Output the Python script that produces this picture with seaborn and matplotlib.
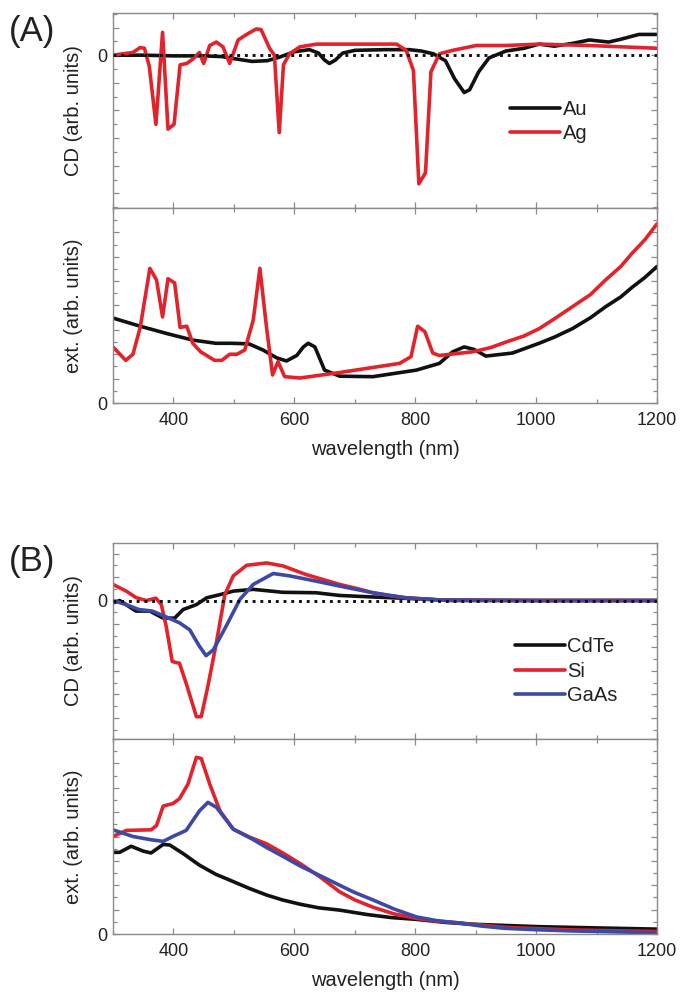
import numpy as np
import pandas as pd
import matplotlib
matplotlib.use("Agg")
import matplotlib.pyplot as plt
import seaborn as sns
from matplotlib.ticker import MultipleLocator, FuncFormatter

# ---------------- (A) metal nanostructures ----------------
au_cd_wl = [300, 350, 400, 450, 480, 500, 530, 555, 575, 600, 625, 640, 650, 658,
            668, 680, 700, 750, 790, 810, 830, 850, 865, 881, 890, 905, 922, 950,
            980, 1005, 1030, 1060, 1088, 1120, 1140, 1170, 1200]
au_cd = [0.0, 0.0, -0.05, -0.05, -0.1, -0.25, -0.45, -0.4, -0.15, 0.25, 0.4, 0.15,
         -0.35, -0.6, -0.35, 0.15, 0.35, 0.4, 0.4, 0.3, 0.1, -0.4, -1.7, -2.7, -2.5,
         -1.2, -0.2, 0.3, 0.5, 0.8, 0.65, 0.85, 1.1, 0.95, 1.15, 1.5, 1.5]

ag_cd_wl = [300, 333, 345, 352, 360, 371, 382, 391, 401, 411, 422, 433, 443, 450,
            460, 471, 482, 493, 507, 521, 537, 545, 559, 567, 575, 582, 592, 609,
            637, 675, 769, 785, 797, 806, 817, 826, 840, 862, 901, 950, 1005, 1088,
            1200]
ag_cd = [0.0, 0.2, 0.55, 0.5, -0.8, -5.0, 1.65, -5.35, -5.0, -0.7, -0.6, -0.25, 0.2,
         -0.6, 0.7, 0.95, 0.6, -0.6, 1.1, 1.5, 1.9, 1.85, 0.5, 0.0, -5.6, -0.7, 0.1,
         0.6, 0.8, 0.8, 0.8, 0.35, -1.1, -9.3, -8.5, -1.2, 0.1, 0.35, 0.7, 0.7, 0.8,
         0.7, 0.5]

au_ext_wl = [300, 345, 389, 432, 470, 497, 525, 548, 571, 587, 604, 615, 623, 634,
             650, 675, 730, 802, 840, 862, 881, 897, 917, 961, 1005, 1030, 1060,
             1090, 1115, 1140, 1159, 1180, 1200]
au_ext = [6.97, 6.3, 5.7, 5.16, 4.9, 4.9, 4.85, 4.35, 3.7, 3.45, 3.9, 4.6, 4.9, 4.6,
          2.7, 2.2, 2.16, 2.7, 3.25, 4.2, 4.6, 4.4, 3.85, 4.1, 4.9, 5.4, 6.1, 7.0,
          7.9, 8.7, 9.5, 10.3, 11.2]

ag_ext_wl = [300, 321, 333, 345, 361, 372, 382, 391, 402, 411, 422, 432, 445, 468,
             480, 493, 505, 518, 532, 543, 554, 564, 573, 584, 609, 675, 774, 793,
             804, 816, 829, 840, 895, 925, 950, 980, 1005, 1030, 1060, 1090, 1115,
             1140, 1159, 1180, 1200]
ag_ext = [4.6, 3.5, 4.0, 6.2, 11.05, 10.1, 7.06, 10.2, 9.85, 6.2, 6.3, 4.9, 4.2, 3.5,
          3.5, 4.0, 4.0, 4.35, 6.8, 11.05, 6.2, 2.3, 3.4, 2.16, 2.05, 2.5, 3.25, 3.8,
          6.3, 5.85, 4.1, 3.9, 4.2, 4.55, 5.0, 5.5, 6.1, 6.9, 7.9, 8.9, 10.1, 11.2,
          12.3, 13.4, 14.7]

# ---------------- (B) semiconductor nanostructures ----------------
cdte_cd_wl = [300, 311, 338, 361, 383, 402, 416, 438, 455, 477, 499, 532, 581, 636,
              675, 730, 800, 860, 1000, 1200]
cdte_cd = [-0.2, 0.0, -0.9, -0.9, -1.5, -1.5, -0.77, -0.35, 0.23, 0.5, 0.8, 0.95,
           0.7, 0.66, 0.43, 0.3, 0.15, 0.0, 0.0, 0.0]

si_cd_wl = [300, 322, 338, 355, 371, 380, 388, 398, 410, 421, 438, 446, 457, 471,
            485, 499, 521, 554, 581, 620, 650, 675, 705, 730, 760, 785, 840, 1000,
            1200]
si_cd = [1.37, 0.8, 0.25, 0.0, 0.2, -0.35, -2.2, -5.2, -5.35, -7.05, -9.9, -9.9,
         -7.3, -3.6, 0.5, 2.1, 3.0, 3.2, 2.95, 2.2, 1.75, 1.37, 1.0, 0.66, 0.4, 0.23,
         0.05, 0.0, 0.0]

gaas_cd_wl = [300, 322, 343, 365, 388, 410, 427, 443, 454, 466, 487, 510, 532, 565,
              592, 636, 675, 705, 730, 760, 785, 840, 1000, 1200]
gaas_cd = [0.0, -0.35, -0.77, -0.9, -1.4, -1.9, -2.5, -3.9, -4.7, -4.2, -2.2, 0.1,
           1.37, 2.3, 2.1, 1.65, 1.23, 0.92, 0.66, 0.42, 0.23, 0.05, 0.0, 0.0]

cdte_ext_wl = [300, 311, 330, 350, 363, 383, 394, 416, 443, 470, 499, 525, 554, 580,
               609, 640, 675, 720, 760, 802, 850, 896, 950, 1005, 1100, 1200]
cdte_ext = [6.7, 6.7, 7.2, 6.8, 6.65, 7.35, 7.3, 6.6, 5.65, 4.9, 4.3, 3.75, 3.2,
            2.8, 2.45, 2.15, 1.96, 1.6, 1.35, 1.2, 0.95, 0.8, 0.7, 0.6, 0.5, 0.4]

si_ext_wl = [300, 322, 363, 372, 383, 399, 410, 424, 438, 446, 460, 477, 499, 526,
             554, 581, 609, 642, 675, 700, 730, 765, 802, 835, 868, 950, 1060, 1200]
si_ext = [8.0, 8.5, 8.55, 8.9, 10.5, 10.7, 11.1, 12.3, 14.5, 14.4, 12.3, 10.1, 8.6,
          7.95, 7.4, 6.65, 5.8, 4.7, 3.46, 2.8, 2.2, 1.65, 1.28, 1.05, 0.93, 0.54,
          0.33, 0.2]

gaas_ext_wl = [300, 333, 361, 383, 399, 421, 443, 457, 471, 499, 530, 554, 580, 609,
               642, 675, 700, 730, 765, 802, 835, 868, 910, 950, 1000, 1060, 1200]
gaas_ext = [8.55, 8.0, 7.75, 7.6, 8.0, 8.5, 10.1, 10.8, 10.4, 8.6, 7.8, 7.1, 6.4,
            5.6, 4.8, 4.0, 3.4, 2.8, 2.05, 1.4, 1.1, 0.93, 0.65, 0.46, 0.35, 0.25,
            0.1]

RED = "#e3232b"
BLUE = "#3c49a6"
BLACK = "#111111"
GREY = "#8a8a8a"

sns.set_style("ticks")
plt.rcParams["font.family"] = ["Liberation Sans", "DejaVu Sans"]
plt.rcParams["text.color"] = "#222222"
plt.rcParams["axes.labelcolor"] = "#222222"

fig = plt.figure(figsize=(6.8, 9.97), dpi=100)

W, H = 680.0, 997.0


def axes_px(left, top, right, bottom):
    return fig.add_axes([left / W, 1 - bottom / H, (right - left) / W, (bottom - top) / H])


def frame(ax, ylim, major, minor, show_x):
    ax.set_xlim(300, 1200)
    ax.set_ylim(*ylim)
    ax.xaxis.set_major_locator(MultipleLocator(200))
    ax.xaxis.set_minor_locator(MultipleLocator(100))
    ax.yaxis.set_major_locator(MultipleLocator(major))
    ax.yaxis.set_minor_locator(MultipleLocator(minor))
    ax.yaxis.set_major_formatter(FuncFormatter(lambda v, p: "0" if abs(v) < 1e-9 else ""))
    ax.tick_params(which="both", direction="in", top=True, right=True, color=GREY,
                   width=0.9, labelsize=13, labelcolor="#222222")
    ax.tick_params(which="major", length=4.5)
    ax.tick_params(which="minor", length=2.8)
    ax.tick_params(axis="x", pad=6.5)
    ax.tick_params(axis="y", pad=4)
    ax.tick_params(axis="x", labelbottom=show_x)
    for s in ax.spines.values():
        s.set_color(GREY)
        s.set_linewidth(1.0)
    ax.yaxis.set_label_coords(-0.056, 0.5)


def draw(ax, wl, vals, color, label=None):
    df = pd.DataFrame({"wavelength": wl, "signal": vals})
    sns.lineplot(data=df, x="wavelength", y="signal", ax=ax, color=color, lw=2.6,
                 label=label, legend=False)


def zero_line(ax):
    ax.axhline(0, color=BLACK, lw=2.1, ls=":", zorder=5)


def legend(ax, x, y):
    ax.legend(loc="upper left", bbox_to_anchor=(x, y), frameon=False, fontsize=14.5,
              handlelength=2.5, handletextpad=0.1, labelspacing=0.28, borderpad=0,
              borderaxespad=0)


# (A) CD
axA1 = axes_px(113, 13, 657, 208)
draw(axA1, au_cd_wl, au_cd, BLACK, "Au")
draw(axA1, ag_cd_wl, ag_cd, RED, "Ag")
zero_line(axA1)
frame(axA1, (-11.05, 3.05), 2, 1, False)
axA1.set_xlabel("")
axA1.set_ylabel("CD (arb. units)", fontsize=14.5)
legend(axA1, 0.73, 0.555)

# (A) extinction
axA2 = axes_px(113, 208, 657, 403)
draw(axA2, au_ext_wl, au_ext, BLACK)
draw(axA2, ag_ext_wl, ag_ext, RED)
frame(axA2, (0, 16), 2, 1, True)
axA2.set_ylabel("ext. (arb. units)", fontsize=14.5)
axA2.set_xlabel("wavelength (nm)", fontsize=14.5, labelpad=8)

# (B) CD
axB1 = axes_px(113, 543, 657, 739)
draw(axB1, cdte_cd_wl, cdte_cd, BLACK, "CdTe")
draw(axB1, si_cd_wl, si_cd, RED, "Si")
draw(axB1, gaas_cd_wl, gaas_cd, BLUE, "GaAs")
zero_line(axB1)
frame(axB1, (-11.8, 4.9), 2, 1, False)
axB1.set_xlabel("")
axB1.set_ylabel("CD (arb. units)", fontsize=14.5)
legend(axB1, 0.739, 0.52)

# (B) extinction
axB2 = axes_px(113, 739, 657, 934)
draw(axB2, cdte_ext_wl, cdte_ext, BLACK)
draw(axB2, si_ext_wl, si_ext, RED)
draw(axB2, gaas_ext_wl, gaas_ext, BLUE)
frame(axB2, (0, 16), 2, 1, True)
axB2.set_ylabel("ext. (arb. units)", fontsize=14.5)
axB2.set_xlabel("wavelength (nm)", fontsize=14.5, labelpad=8)

fig.text(9 / W, 1 - 31 / H, "(A)", fontsize=25, ha="left", va="center")
fig.text(9 / W, 1 - 562 / H, "(B)", fontsize=25, ha="left", va="center")

fig.savefig("out.png", dpi=100)
